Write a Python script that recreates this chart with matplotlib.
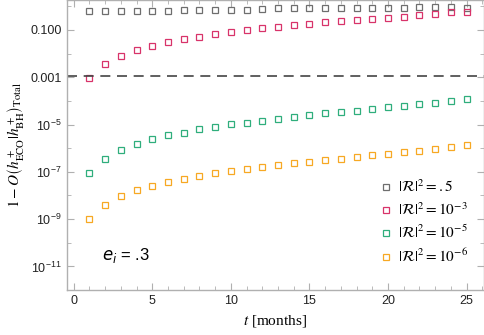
import numpy as np
import matplotlib
matplotlib.use("Agg")
import matplotlib.pyplot as plt
from matplotlib.ticker import FixedLocator, FixedFormatter, MultipleLocator

plt.rcParams['mathtext.fontset'] = 'stix'
plt.rcParams['font.family'] = ['Liberation Sans', 'DejaVu Sans']

# data
months = np.arange(1, 26)
log_gray = [-0.19, -0.19, -0.19, -0.19, -0.19, -0.19, -0.17, -0.17, -0.15, -0.14,
             -0.14, -0.12, -0.09, -0.09, -0.09, -0.09, -0.09, -0.09, -0.09, -0.09,
             -0.07, -0.05, -0.05, -0.05, -0.06]
log_red = [-3.05, -2.46, -2.10, -1.87, -1.66, -1.49, -1.38, -1.28, -1.17, -1.07,
           -1.00, -0.92, -0.86, -0.79, -0.73, -0.66, -0.61, -0.58, -0.52, -0.48,
           -0.44, -0.37, -0.33, -0.25, -0.24]
log_green = [-7.04, -6.44, -6.09, -5.83, -5.62, -5.45, -5.34, -5.20, -5.11, -4.99,
             -4.92, -4.83, -4.75, -4.68, -4.61, -4.52, -4.48, -4.41, -4.35, -4.27,
             -4.22, -4.15, -4.07, -4.00, -3.92]
log_orange = [-9.01, -8.40, -8.04, -7.77, -7.60, -7.44, -7.32, -7.18, -7.06, -6.98,
              -6.88, -6.79, -6.72, -6.64, -6.58, -6.51, -6.45, -6.37, -6.30, -6.23,
              -6.17, -6.11, -6.04, -5.96, -5.86]
threshold = 1.15e-3

labels = [r"$|\mathcal{R}|^2 = .5$", r"$|\mathcal{R}|^2 = 10^{-3}$",
          r"$|\mathcal{R}|^2 = 10^{-5}$", r"$|\mathcal{R}|^2 = 10^{-6}$"]
colors = ['#6e6e6e', '#d8336a', '#2fae7c', '#f7a823']

ytick_vals = [1e-1, 1e-3, 1e-5, 1e-7, 1e-9, 1e-11]
ytick_labels = ['0.100', '0.001', r'$\mathregular{10^{-5}}$', r'$\mathregular{10^{-7}}$',
                r'$\mathregular{10^{-9}}$', r'$\mathregular{10^{-11}}$']

fig = plt.figure(figsize=(4.85, 3.35), dpi=100)
ax = fig.add_axes([0.1375, 0.134, 0.86, 0.866])

for logv, c, lab in zip([log_gray, log_red, log_green, log_orange], colors, labels):
    ax.plot(months, 10.0 ** np.array(logv), ls='none', marker='s', ms=4.2,
            mfc='none', mec=c, mew=0.9, label=lab)

ax.axhline(threshold, color='#444444', lw=1.2, dashes=(6, 4))

ax.set_yscale('log')
ax.set_xlim(-0.45, 26.1)
ax.set_ylim(1e-12, 1.84)

ax.yaxis.set_major_locator(FixedLocator(ytick_vals))
ax.yaxis.set_major_formatter(FixedFormatter(ytick_labels))
ax.yaxis.set_minor_locator(FixedLocator([1e-2, 1e-4, 1e-6, 1e-8, 1e-10, 1e-12, 1.0]))
ax.yaxis.set_minor_formatter(FixedFormatter([]))
ax.xaxis.set_major_locator(MultipleLocator(5))
ax.xaxis.set_minor_locator(MultipleLocator(1))

for s in ax.spines.values():
    s.set_color('#b0b0b0')
    s.set_linewidth(1.0)
ax.tick_params(which='both', direction='in', top=True, right=True,
               color='#b0b0b0', labelsize=9, labelcolor='#222222')
ax.tick_params(which='major', length=5)
ax.tick_params(which='minor', length=3)

ax.set_xlabel(r"$t$ [months]", fontsize=11, family='Liberation Serif',
              math_fontfamily='stix')
ax.set_ylabel(r"$1 - O\left(h^+_{\mathrm{ECO}}|h^+_{\mathrm{BH}}\right)_{\mathrm{Total}}$",
              fontsize=11, labelpad=3)

ax.text(0.085, 0.105, r"$e_i$ = .3", transform=ax.transAxes, fontsize=12,
        math_fontfamily='dejavusans')

leg = ax.legend(loc='upper left', bbox_to_anchor=(0.74, 0.405), frameon=False,
                fontsize=11, handlelength=0.6, handletextpad=0.5,
                labelspacing=0.4, borderaxespad=0)

fig.savefig('out.png', dpi=100)
